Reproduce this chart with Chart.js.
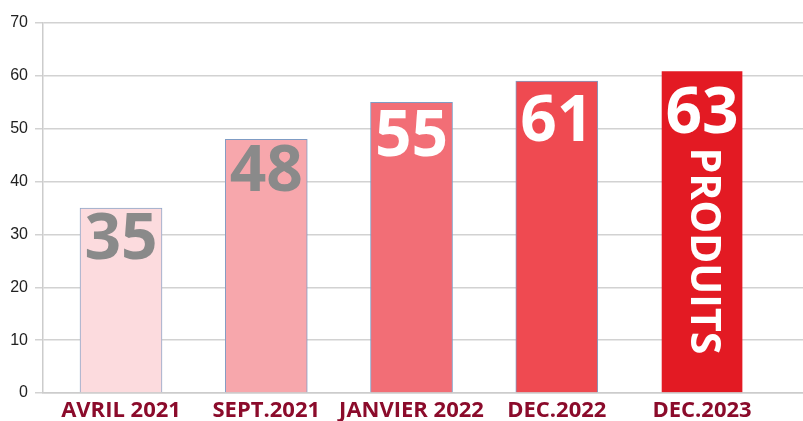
<!DOCTYPE html>
<html lang="fr">
<head>
    <meta charset="UTF-8">
    <title>Produits</title>
    <style>
        html, body { margin: 0; padding: 0; background: #ffffff; }
        #wrap { width: 803px; height: 421px; }
    </style>
</head>
<body>
    <div id="wrap">
        <canvas id="produits-chart" width="803" height="421"></canvas>
    </div>

    <script src="https://cdn.jsdelivr.net/npm/chart.js"></script>
    <script>
        // données
        const periodes = ['AVRIL 2021', 'SEPT.2021', 'JANVIER 2022', 'DEC.2022', 'DEC.2023'];
        const hauteurs = [35, 48, 55, 59, 61];
        const etiquettes = ['35', '48', '55', '61', '63'];
        const yTicks = [0, 10, 20, 30, 40, 50, 60, 70];

        const couleurs = ['#fcdbde', '#f7a7ac', '#f26e76', '#ef4a51', '#e31a23'];
        const bordures = ['#8fa7c9', '#7f9cc4', '#7f9cc4', '#7f9cc4', 'rgba(0,0,0,0)'];
        const couleursTexte = ['#8a8a8a', '#8a8a8a', '#ffffff', '#ffffff', '#ffffff'];
        const decalages = [51, 52, 54, 60, 62];

        const etiquettesPlugin = {
            id: 'etiquettes',
            afterDatasetsDraw(chart) {
                const ctx = chart.ctx;
                const meta = chart.getDatasetMeta(0);
                ctx.save();
                meta.data.forEach((bar, i) => {
                    ctx.font = 'bold 64px "Open Sans"';
                    ctx.textAlign = 'center';
                    ctx.textBaseline = 'alphabetic';
                    ctx.fillStyle = couleursTexte[i];
                    ctx.fillText(etiquettes[i], bar.x, bar.y + decalages[i]);
                });
                // texte vertical sur la derniere barre
                const last = meta.data[meta.data.length - 1];
                ctx.translate(last.x + 1, last.y + 77);
                ctx.rotate(Math.PI / 2);
                ctx.font = 'bold 41px "Open Sans"';
                ctx.textAlign = 'left';
                ctx.textBaseline = 'middle';
                ctx.fillStyle = '#ffffff';
                ctx.fillText('PRODUITS', 0, 0);
                ctx.restore();
            }
        };

        const ctx = document.getElementById('produits-chart').getContext('2d');
        new Chart(ctx, {
            type: 'bar',
            data: {
                datasets: [{
                    data: hauteurs.map((v, i) => ({ x: i, y: v })),
                    backgroundColor: couleurs,
                    borderColor: bordures,
                    borderWidth: 1,
                    barThickness: 82
                }]
            },
            options: {
                responsive: false,
                animation: false,
                layout: { padding: { top: 23, right: 0, left: 0, bottom: 0 } },
                plugins: {
                    legend: { display: false },
                    tooltip: { enabled: false }
                },
                scales: {
                    x: {
                        type: 'linear',
                        min: -0.537,
                        max: 4.695,
                        offset: false,
                        grid: { display: false, offset: false },
                        border: { display: true, color: '#cccccc', width: 1.5 },
                        afterBuildTicks: (scale) => {
                            scale.ticks = periodes.map((p, i) => ({ value: i }));
                        },
                        afterFit: (scale) => { scale.height = 28; },
                        ticks: {
                            autoSkip: false,
                            maxRotation: 0,
                            padding: -3,
                            color: '#8b0b2b',
                            font: { family: '"Open Sans"', size: 22, weight: 'bold' },
                            callback: (v) => periodes[v]
                        }
                    },
                    y: {
                        min: 0,
                        max: 70,
                        afterBuildTicks: (scale) => {
                            scale.ticks = yTicks.map(v => ({ value: v }));
                        },
                        afterFit: (scale) => { scale.width = 43; },
                        grid: { color: '#d2d2d2', lineWidth: 1.5, tickLength: 8 },
                        border: { display: true, color: '#cccccc', width: 1.5 },
                        ticks: {
                            padding: 7,
                            color: '#222222',
                            font: { family: '"Liberation Sans"', size: 16 }
                        }
                    }
                }
            },
            plugins: [etiquettesPlugin]
        });
    </script>
</body>
</html>
